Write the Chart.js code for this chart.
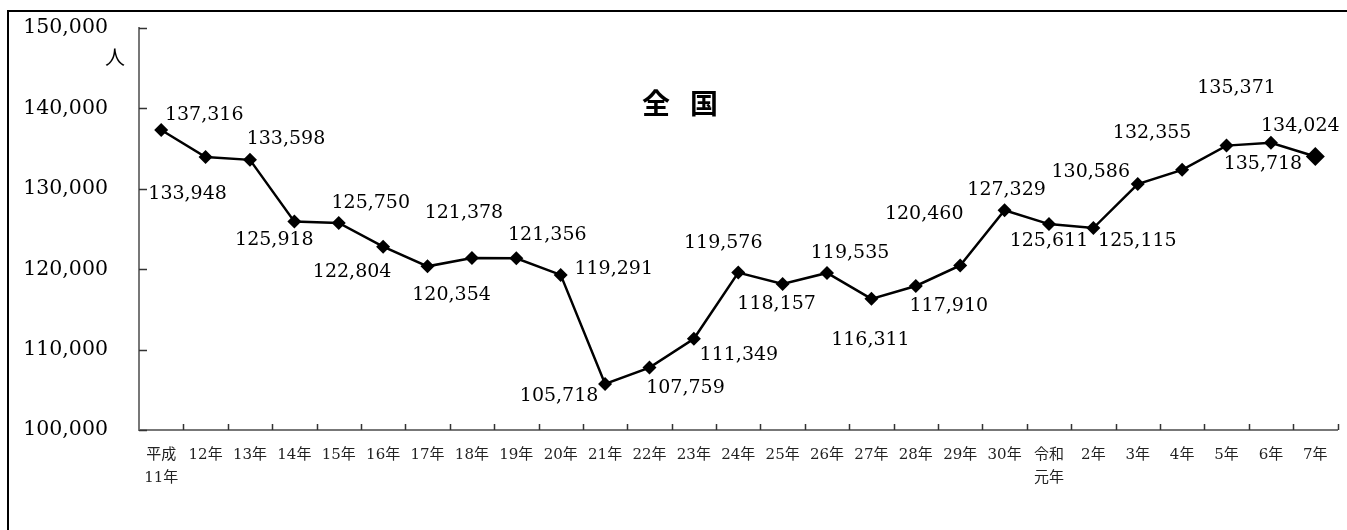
<!DOCTYPE html>
<html>
<head>
<meta charset="utf-8">
<script src="https://cdn.jsdelivr.net/npm/chart.js@4.4.1/dist/chart.umd.min.js"></script>
<style>
  html, body { margin: 0; padding: 0; background: #fff; }
  #wrap { width: 1347px; height: 530px; position: relative; }
</style>
</head>
<body>
<div id="wrap"><canvas id="c" width="1347" height="530"></canvas></div>
<script>
// ---- data ----
const categories = [
  ['平成', '11年'], '12年', '13年', '14年', '15年', '16年', '17年', '18年', '19年', '20年',
  '21年', '22年', '23年', '24年', '25年', '26年', '27年', '28年', '29年', '30年',
  ['令和', '元年'], '2年', '3年', '4年', '5年', '6年', '7年'
];
const values = [
  137316, 133948, 133598, 125918, 125750, 122804, 120354, 121378, 121356, 119291,
  105718, 107759, 111349, 119576, 118157, 119535, 116311, 117910, 120460, 127329,
  125611, 125115, 130586, 132355, 135371, 135718, 134024
];
const yMin = 100000;
const yMax = 150000;
const yStep = 10000;
const titleChars = ['全', '国'];
const unitLabel = '人';

// label placement relative to each point (dx, dy of label centre)
const labelOffsets = [
  [43, -15], [-18, 37], [36, -21], [-20, 18], [32, -20], [-31, 25], [24, 29], [-8, -45], [31, -23], [53, -6],
  [-46, 12], [36, 20], [45, 16], [-15, -30], [-6, 20], [23, -20], [-1, 41], [33, 20], [-36, -51], [2, -20],
  [0, 17], [44, 13], [-47, -12], [-30, -37], [10, -58], [-8, 21], [-15, -30]
];

const SERIF = "'DejaVu Serif', 'Noto Sans CJK JP', serif";
const CJK = "'Noto Sans CJK JP', sans-serif";

const fmt = v => v.toLocaleString('en-US');

const decorPlugin = {
  id: 'decor',
  beforeDraw(chart) {
    const ctx = chart.ctx;
    ctx.save();
    ctx.strokeStyle = '#000';
    ctx.lineWidth = 2;
    ctx.beginPath();
    ctx.moveTo(7, 11);
    ctx.lineTo(1347, 11);
    ctx.moveTo(8, 10);
    ctx.lineTo(8, 530);
    ctx.stroke();
    ctx.restore();
  },
  afterDraw(chart) {
    const ctx = chart.ctx;
    const xs = chart.scales.x, ys = chart.scales.y;
    const area = chart.chartArea;
    ctx.save();
    // inner tick marks
    ctx.strokeStyle = '#333';
    ctx.lineWidth = 1.5;
    ctx.beginPath();
    for (let v = yMin; v <= yMax; v += yStep) {
      const y = Math.round(ys.getPixelForValue(v)) + 0.5;
      ctx.moveTo(area.left, y);
      ctx.lineTo(area.left + 8, y);
    }
    const n = categories.length;
    const w = (area.right - area.left) / n;
    for (let i = 1; i <= n; i++) {
      const x = Math.round(area.left + w * i) + 0.5;
      ctx.moveTo(x, area.bottom);
      ctx.lineTo(x, area.bottom - 6);
    }
    ctx.stroke();

    // title
    ctx.fillStyle = '#000';
    ctx.font = "bold 28px " + CJK;
    ctx.textAlign = 'center';
    ctx.textBaseline = 'middle';
    const cx = 680;
    ctx.fillText(titleChars[0], cx - 24, 103);
    ctx.fillText(titleChars[1], cx + 24, 103);

    // unit
    ctx.font = "20px " + CJK;
    ctx.fillText(unitLabel, 115, 57);

    // data labels
    const meta = chart.getDatasetMeta(0);
    ctx.font = "19px " + SERIF;
    meta.data.forEach((pt, i) => {
      const off = labelOffsets[i];
      ctx.fillText(fmt(values[i]), pt.x + off[0], pt.y + off[1]);
    });
    ctx.restore();
  }
};

new Chart(document.getElementById('c'), {
  type: 'line',
  data: {
    labels: categories,
    datasets: [{
      data: values,
      borderColor: '#000',
      borderWidth: 2.5,
      backgroundColor: '#000',
      pointStyle: 'rectRot',
      pointRadius: ctx => ctx.dataIndex === values.length - 1 ? 9.5 : 7,
      pointBorderWidth: 0,
      pointBackgroundColor: '#000',
      tension: 0,
      fill: false
    }]
  },
  options: {
    responsive: false,
    animation: false,
    devicePixelRatio: 1,
    layout: { padding: { top: 28, right: 7, bottom: 0, left: 0 } },
    plugins: {
      legend: { display: false },
      tooltip: { enabled: false },
      title: { display: false }
    },
    scales: {
      x: {
        type: 'category',
        offset: true,
        grid: { display: false, drawTicks: false },
        border: { display: true, color: '#777', width: 2 },
        ticks: {
          autoSkip: false,
          maxRotation: 0,
          minRotation: 0,
          padding: 14,
          color: '#222',
          font: { family: SERIF, size: 15, lineHeight: 1.5 }
        },
        afterFit(scale) { scale.height = 100; }
      },
      y: {
        min: yMin,
        max: yMax,
        grid: { display: false, drawTicks: false },
        border: { display: true, color: '#777', width: 2 },
        ticks: {
          stepSize: yStep,
          padding: 31,
          color: '#000',
          font: { family: SERIF, size: 20.5 },
          callback: v => fmt(v)
        },
        afterFit(scale) {
          scale.width = 139;
          scale.paddingTop = 0;
          scale.paddingBottom = 0;
        }
      }
    }
  },
  plugins: [decorPlugin]
});
</script>
</body>
</html>
